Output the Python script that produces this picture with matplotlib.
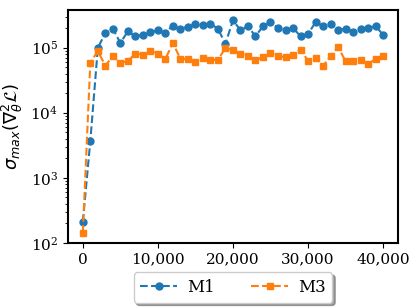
import matplotlib
matplotlib.use("Agg")
import matplotlib.pyplot as plt

plt.rcParams['font.family'] = 'serif'
plt.rcParams['mathtext.fontset'] = 'dejavusans'

# iterasi tiap 1000 step
steps = list(range(0, 41000, 1000))

m1 = [210, 3.7e3, 9.9e4, 1.68e5, 1.96e5, 1.18e5, 1.78e5, 1.49e5, 1.58e5, 1.72e5,
      1.85e5, 1.68e5, 2.18e5, 1.96e5, 2.08e5, 2.29e5, 2.23e5, 2.34e5, 1.94e5, 1.15e5,
      2.63e5, 1.85e5, 2.13e5, 1.49e5, 2.13e5, 2.45e5, 2.01e5, 1.85e5, 2.01e5, 1.49e5,
      1.62e5, 2.45e5, 2.13e5, 2.29e5, 1.89e5, 1.94e5, 1.76e5, 1.96e5, 2.01e5, 2.13e5,
      1.58e5]

m3 = [144, 5.9e4, 8.8e4, 5.3e4, 7.4e4, 5.8e4, 6.2e4, 8.1e4, 7.8e4, 9.0e4,
      8.0e4, 6.7e4, 1.18e5, 6.7e4, 6.7e4, 6.0e4, 6.9e4, 6.5e4, 6.5e4, 9.9e4,
      9.1e4, 8.1e4, 7.5e4, 6.4e4, 7.2e4, 8.3e4, 7.4e4, 7.1e4, 7.8e4, 9.3e4,
      6.3e4, 6.9e4, 5.2e4, 7.5e4, 1.02e5, 6.2e4, 6.2e4, 6.4e4, 5.6e4, 6.7e4,
      7.4e4]

fig, ax = plt.subplots(figsize=(4.16, 3.08), dpi=100)
fig.subplots_adjust(left=0.163, right=0.957, top=0.968, bottom=0.211)

ax.plot(steps, m1, '--', marker='o', markersize=5, color='tab:blue', label='M1')
ax.plot(steps, m3, '--', marker='s', markersize=5, color='tab:orange', label='M3')

ax.set_yscale('log')
ax.set_ylim(100, 3.8e5)
ax.set_xticks([0, 10000, 20000, 30000, 40000])
ax.set_xticklabels(['0', '10,000', '20,000', '30,000', '40,000'])
ax.tick_params(labelsize=11)
ax.set_ylabel(r'$\sigma_{max}(\nabla^2_\theta \mathcal{L})$', fontsize=13)

for s in ax.spines.values():
    s.set_linewidth(1.5)

ax.legend(loc='upper center', bbox_to_anchor=(0.5, -0.09), ncol=2, shadow=True,
          fontsize=12, handlelength=2.2, handletextpad=0.6, columnspacing=2.2)

fig.savefig('out.png', dpi=100)
